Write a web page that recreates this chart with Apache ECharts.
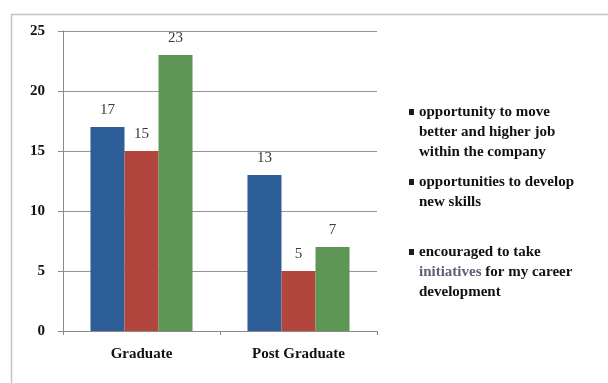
<!DOCTYPE html>
<html>
<head>
<meta charset="utf-8">
<style>
  html, body { margin: 0; padding: 0; background: #ffffff; }
  #chart { width: 608px; height: 383px; }
</style>
<script src="https://cdn.jsdelivr.net/npm/echarts@6/dist/echarts.min.js"></script>
</head>
<body>
<div id="chart"></div>
<script>
// Respondent groups on the x axis
const categories = ['Graduate', 'Post Graduate'];

// Counts per reason, one array per series
const seriesNames = [
  'opportunity to move better and higher job within the company',
  'opportunities to develop new skills',
  'encouraged to take initiatives for my career development'
];
const moveUpValues = [17, 13];
const newSkillsValues = [15, 5];
const initiativeValues = [23, 7];

// Legend text, broken into lines (second entry keeps a blank third line)
const legendLines = [
  ['opportunity to move', 'better and higher job', 'within the company'],
  ['opportunities to develop', 'new skills', ' '],
  ['encouraged to take', '{dim|initiatives} for my career', 'development']
];

const yTicks = { min: 0, max: 25, interval: 5 };

const colors = ['#2e5e97', '#b2463f', '#5e9655'];
const serif = '"Liberation Serif", "DejaVu Serif", serif';

const chart = echarts.init(document.getElementById('chart'), null, { renderer: 'canvas' });

function bar(name, data, color) {
  return {
    name: name,
    type: 'bar',
    data: data,
    barGap: '0%',
    barCategoryGap: '35%',
    itemStyle: { color: color },
    label: {
      show: true,
      position: 'top',
      distance: 9,
      color: '#3a3a3a',
      fontFamily: serif,
      fontSize: 15
    }
  };
}

// Legend marker: small square near the top of a tall, mostly empty icon box
const markerPath = 'path://M0,7L5,7L5,13L0,13Z M0,0L0.01,0L0,0.01Z M0,60L0.01,60L0,59.99Z';

chart.setOption({
  backgroundColor: '#ffffff',
  animation: false,
  color: colors,
  graphic: [{
    type: 'rect',
    left: 9,
    top: 12,
    shape: { width: 640, height: 420 },
    style: { fill: 'none', stroke: '#c4c4c4', lineWidth: 1.5 },
    silent: true
  }],
  grid: { left: 63, right: 231, top: 31, bottom: 52 },
  legend: {
    orient: 'vertical',
    left: 404,
    top: 97,
    itemWidth: 5,
    itemHeight: 60,
    itemGap: 10,
    icon: markerPath,
    itemStyle: { color: '#1c1c1c' },
    data: seriesNames,
    formatter: function (name) {
      return legendLines[seriesNames.indexOf(name)].join('\n');
    },
    textStyle: {
      color: '#111111',
      fontFamily: serif,
      fontWeight: 'bold',
      fontSize: 15,
      lineHeight: 20,
      rich: {
        dim: {
          color: '#5b6275',
          fontFamily: serif,
          fontWeight: 'bold',
          fontSize: 15,
          lineHeight: 20
        }
      }
    }
  },
  xAxis: {
    type: 'category',
    data: categories,
    axisLine: { show: true, lineStyle: { color: '#8a8a8a', width: 1 } },
    axisTick: { show: true, length: 4, lineStyle: { color: '#8a8a8a' } },
    axisLabel: {
      color: '#111111',
      fontFamily: serif,
      fontWeight: 'bold',
      fontSize: 15,
      margin: 16
    }
  },
  yAxis: {
    type: 'value',
    min: yTicks.min,
    max: yTicks.max,
    interval: yTicks.interval,
    axisLine: { show: true, lineStyle: { color: '#8a8a8a', width: 1 } },
    axisTick: { show: true, inside: false, length: 5, lineStyle: { color: '#8a8a8a' } },
    splitLine: { show: true, lineStyle: { color: '#959595', width: 1 } },
    axisLabel: {
      color: '#111111',
      fontFamily: serif,
      fontWeight: 'bold',
      fontSize: 15,
      margin: 18
    }
  },
  series: [
    bar(seriesNames[0], moveUpValues, colors[0]),
    bar(seriesNames[1], newSkillsValues, colors[1]),
    bar(seriesNames[2], initiativeValues, colors[2])
  ]
});
</script>
</body>
</html>
